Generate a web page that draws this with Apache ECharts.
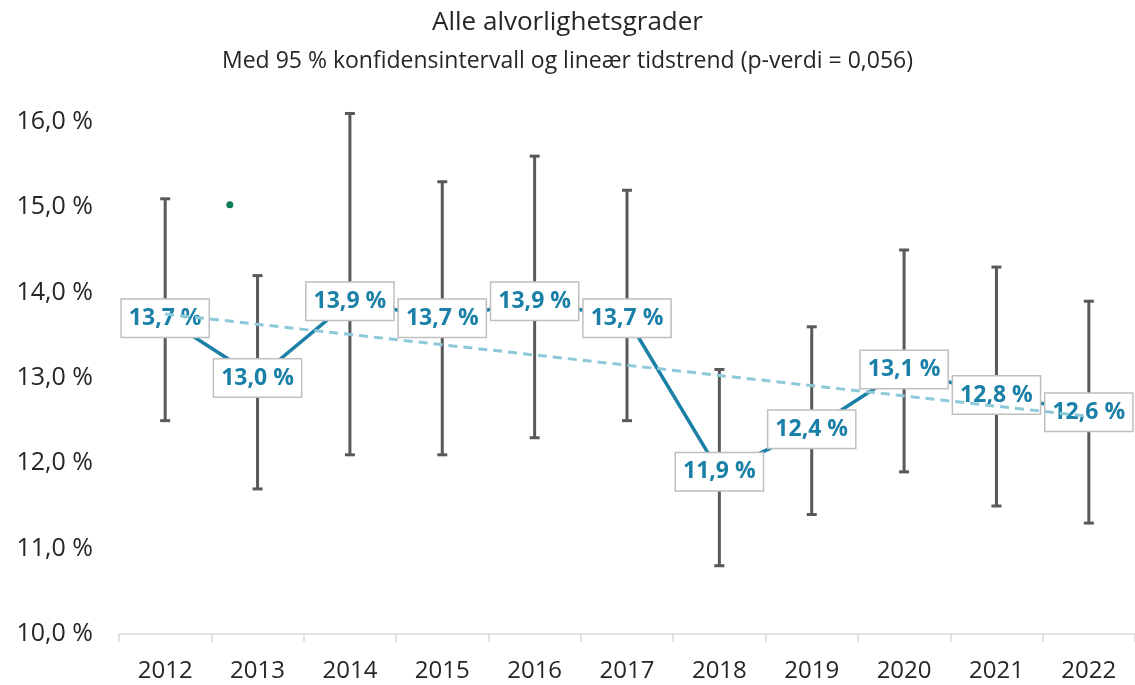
<!DOCTYPE html>
<html>
<head>
<meta charset="utf-8">
<script src="https://cdn.jsdelivr.net/npm/echarts@6/dist/echarts.min.js"></script>
<style>
  html, body { margin: 0; padding: 0; background: #fff; }
  #chart { width: 1135px; height: 685px; }
</style>
</head>
<body>
<div id="chart"></div>
<script>
var years = ['2012', '2013', '2014', '2015', '2016', '2017', '2018', '2019', '2020', '2021', '2022'];
var rate = [13.7, 13.0, 13.9, 13.7, 13.9, 13.7, 11.9, 12.4, 13.1, 12.8, 12.6];
var ciLow = [12.5, 11.7, 12.1, 12.1, 12.3, 12.5, 10.8, 11.4, 11.9, 11.5, 11.3];
var ciHigh = [15.1, 14.2, 16.1, 15.3, 15.6, 15.2, 13.1, 13.6, 14.5, 14.3, 13.9];
// trend line end points (2012 and 2022)
var trendEnds = [13.75, 12.55];
// stray marker seen in the chart
var strayDot = [0.7, 15.03];

var chart = echarts.init(document.getElementById('chart'));

var fmt = function (v) {
    return v.toFixed(1).replace('.', ',') + ' %';
};

var errData = years.map(function (y, i) {
    return [i, ciLow[i], ciHigh[i]];
});

var option = {
    animation: false,
    textStyle: { fontFamily: 'Open Sans' },
    title: {
        text: 'Alle alvorlighetsgrader',
        subtext: 'Med 95 % konfidensintervall og lineær tidstrend (p-verdi = 0,056)',
        left: 'center',
        top: 5,
        itemGap: 14,
        textStyle: { fontSize: 26, fontWeight: 'normal', color: '#262626', fontFamily: 'Open Sans' },
        subtextStyle: { fontSize: 23, color: '#262626', fontFamily: 'Open Sans' }
    },
    grid: { left: 119, right: -4, top: 122, bottom: 51 },
    xAxis: [
        {
            type: 'category',
            data: years,
            axisLine: { lineStyle: { color: '#d9d9d9', width: 1.5 } },
            axisTick: { show: true, length: 8, lineStyle: { color: '#d9d9d9', width: 1.5 } },
            axisLabel: { color: '#262626', fontSize: 24, margin: 25 }
        },
        {
            type: 'value',
            min: -0.5,
            max: 10.5,
            show: false
        }
    ],
    yAxis: {
        type: 'value',
        min: 10,
        max: 16,
        interval: 1,
        axisLine: { show: false },
        axisTick: { show: false },
        splitLine: { show: false },
        axisLabel: { color: '#262626', fontSize: 25, margin: 26, formatter: fmt }
    },
    series: [
        {
            name: 'KI',
            type: 'custom',
            z: 1,
            data: errData,
            renderItem: function (params, api) {
                var x = api.value(0);
                var lo = api.coord([x, api.value(1)]);
                var hi = api.coord([x, api.value(2)]);
                var cap = 5;
                var style = { stroke: '#595959', lineWidth: 3 };
                return {
                    type: 'group',
                    children: [
                        { type: 'line', shape: { x1: lo[0], y1: lo[1], x2: hi[0], y2: hi[1] }, style: style },
                        { type: 'line', shape: { x1: lo[0] - cap, y1: lo[1], x2: lo[0] + cap, y2: lo[1] }, style: style },
                        { type: 'line', shape: { x1: hi[0] - cap, y1: hi[1], x2: hi[0] + cap, y2: hi[1] }, style: style }
                    ]
                };
            }
        },
        {
            name: 'Andel',
            type: 'line',
            z: 2,
            data: rate,
            symbol: 'circle',
            symbolSize: 1,
            itemStyle: { color: '#1b80a7' },
            lineStyle: { color: '#1b80a7', width: 3.5 },
            label: {
                show: true,
                position: 'inside',
                formatter: function (p) { return fmt(p.value); },
                color: '#1b80a7',
                fontWeight: 'bold',
                fontSize: 23,
                backgroundColor: '#fff',
                borderColor: '#bfbfbf',
                borderWidth: 1.5,
                padding: [8, 7, 6, 7]
            }
        },
        {
            name: 'Trend',
            type: 'line',
            z: 3,
            data: [[0, trendEnds[0]], [10, trendEnds[1]]],
            symbol: 'none',
            lineStyle: { color: '#8ec9da', width: 3, type: [9, 6] }
        },
        {
            name: 'Punkt',
            type: 'scatter',
            xAxisIndex: 1,
            z: 4,
            data: [strayDot],
            symbolSize: 7,
            itemStyle: { color: '#0b7d52', opacity: 1 }
        }
    ]
};

chart.setOption(option);
</script>
</body>
</html>
